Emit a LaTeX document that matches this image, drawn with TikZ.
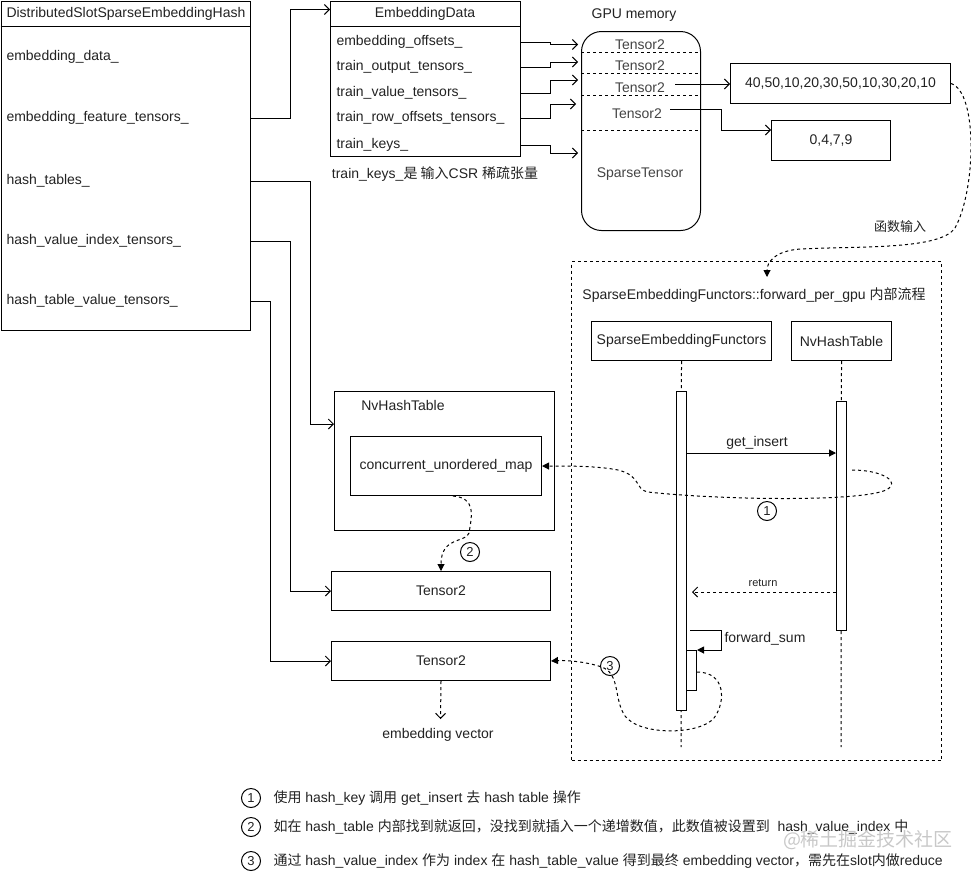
\documentclass[tikz,border=0pt]{standalone}
\usepackage{fontspec}
\setmainfont{Liberation Sans}
\newfontfamily\cjk{Noto Sans CJK SC}
\usetikzlibrary{arrows.meta}
\newcommand\fsz[1]{\fontsize{#1pt}{#1pt}\selectfont}
\newcommand\zh[1]{{\cjk #1}}
\definecolor{txt}{HTML}{222222}
\definecolor{gtxt}{HTML}{444444}
\definecolor{wm}{HTML}{C8C8C8}
\begin{document}
\begin{tikzpicture}[x=1pt,y=-1pt, line width=1pt,
  lbl/.style={font=\fsz{14}, text=txt, inner sep=0pt},
  box/.style={draw, inner sep=0pt, anchor=north west, font=\fsz{14}, text=txt},
  oarr/.style={-{Straight Barb[length=5pt,width=10pt]}},
  farr/.style={-{Triangle[length=7pt,width=7pt]}},
  dsh/.style={dash pattern=on 3pt off 3pt},
  circ/.style={draw, circle, minimum size=19pt, inner sep=0pt, font=\fsz{13}, text=txt}
]
\useasboundingbox (0,0) rectangle (971,871);

% ---------- left class box
\node[box, minimum width=249.5pt, minimum height=329.5pt] (big) at (0.5,0.5) {};
\draw (0.5,26) -- (250,26);
\node[lbl, anchor=west] (hdr) at (6,14) {DistributedSlotSparseEmbeddingHash};
\node[lbl, anchor=west] (i1) at (6,57) {embedding\_data\_};
\node[lbl, anchor=west] (i2) at (6,118) {embedding\_feature\_tensors\_};
\node[lbl, anchor=west] (i3) at (6,181) {hash\_tables\_};
\node[lbl, anchor=west] (i4) at (6,241) {hash\_value\_index\_tensors\_};
\node[lbl, anchor=west] (i5) at (6,301) {hash\_table\_value\_tensors\_};

% ---------- EmbeddingData
\node[box, minimum width=190pt, minimum height=155.5pt] (ed) at (330,0.5) {};
\draw (330,26) -- (520,26);
\node[lbl] (edh) at (425,14) {EmbeddingData};
\node[lbl, anchor=west] (e1) at (336,42) {embedding\_offsets\_};
\node[lbl, anchor=west] (e2) at (336,67) {train\_output\_tensors\_};
\node[lbl, anchor=west] (e3) at (336,93) {train\_value\_tensors\_};
\node[lbl, anchor=west] (e4) at (336,118) {train\_row\_offsets\_tensors\_};
\node[lbl, anchor=west] (e5) at (336,145) {train\_keys\_};
\node[lbl] (cap) at (435,174) {train\_keys\_\zh{是 输入}CSR \zh{稀疏张量}};

% ---------- GPU memory
\node[lbl] (gpul) at (634,15) {GPU memory};
\node[box, rounded corners=20pt, minimum width=119pt, minimum height=199pt] (gpu) at (581,31) {};
\draw[dsh] (581,52) -- (700,52);
\draw[dsh] (581,73) -- (700,73);
\draw[dsh] (581,95) -- (700,95);
\draw[dsh] (581,130) -- (700,130);
\node[lbl, text=gtxt] (t1) at (640,45) {Tensor2};
\node[lbl, text=gtxt] (t2) at (640,66) {Tensor2};
\node[lbl, text=gtxt] (t3) at (640,88) {Tensor2};
\node[lbl, text=gtxt] (t4) at (637,114) {Tensor2};
\node[lbl, text=gtxt] (st) at (640,174) {SparseTensor};

\node[box, minimum width=220pt, minimum height=40pt] (vals) at (730,63) {40,50,10,20,30,50,10,30,20,10};
\node[box, minimum width=119pt, minimum height=40pt] (idx) at (771,120) {0,4,7,9};

% y levels
\coordinate (y9) at (0,9.5);
\coordinate (g1) at (0,44.5);
\coordinate (g2) at (0,62);
\coordinate (g3) at (0,80);
\coordinate (g4) at (0,104);
\coordinate (g5) at (0,153);
\coordinate (a3) at (675,84);
\coordinate (a4) at (670,109);
\coordinate (a4b) at (0,130);

% connectors top
\draw[oarr] (i2 -| big.east) -- (290,118) -- (290,9.5) -- (ed.west |- y9);
\draw[oarr] (e1 -| ed.east) -- (550,42) |- ([xshift=-3pt]gpu.west |- g1);
\draw[oarr] (e2 -| ed.east) -- (550,67) |- ([xshift=-3pt]gpu.west |- g2);
\draw[oarr] (e3 -| ed.east) -- (550,93) |- ([xshift=-3pt]gpu.west |- g3);
\draw[oarr] (e4 -| ed.east) -- (550,118) |- ([xshift=-5pt]gpu.west |- g4);
\draw[oarr] (e5 -| ed.east) -- (550,145) |- ([xshift=-3pt]gpu.west |- g5);
\draw[oarr] (a3) -- (vals.west |- a3);
\draw[oarr] (a4) -- (721,109) |- (idx.west |- a4b);

% ---------- forward container
\node[draw, dsh, anchor=north west, minimum width=370pt, minimum height=499pt, inner sep=0pt] (fwd) at (571,261) {};
\node[lbl] (ftitle) at (754,295) {SparseEmbeddingFunctors::forward\_per\_gpu \zh{内部流程}};
\coordinate (in1) at (767,277);
\draw[farr, dsh] (vals.east) .. controls (978,92) and (976,190) .. (955,228)
   .. controls (940,250) and (860,246) .. (800,249)
   .. controls (775,251) and (767,262) .. (in1);
\node[lbl, font=\fsz{13}] (fin) at (900,227) {\zh{函数输入}};

% lifelines
\node[box, minimum width=180pt, minimum height=39pt] (sef) at (591,321) {SparseEmbeddingFunctors};
\node[box, minimum width=100pt, minimum height=39pt] (nvh) at (791,321) {NvHashTable};
\coordinate (l1end) at (681,747);
\coordinate (l2end) at (841,747);
\draw[dsh] (sef.south) -- (l1end);
\draw[dsh] (nvh.south) -- (l2end);
\node[draw, fill=white, anchor=north west, minimum width=10pt, minimum height=319pt, inner sep=0pt] (bar1) at (676,391) {};
\node[draw, fill=white, anchor=north west, minimum width=10pt, minimum height=229pt, inner sep=0pt] (bar2) at (836,401) {};
\node[draw, fill=white, anchor=north west, minimum width=10pt, minimum height=40pt, inner sep=0pt] (bar3) at (686,650) {};

\coordinate (gy) at (0,453);
\draw[farr] (bar1.east |- gy) -- (bar2.west |- gy);
\node[lbl] (gi) at (757,443) {get\_insert};
\coordinate (ry) at (0,592);
\coordinate (rtip) at (692,592);
\draw[oarr, dsh] (bar2.west |- ry) -- (rtip);
\node[lbl, font=\fsz{11}] (ret) at (763,583) {return};
\coordinate (fs0) at (690,630);
\draw[farr] (fs0) -- (721,630) -- (721,650) -- (bar3.north east);
\node[lbl, anchor=west] (fsum) at (724,639) {forward\_sum};

% ---------- NvHashTable & tensors
\node[box, minimum width=220pt, minimum height=139pt] (nvc) at (334,391) {};
\node[lbl] (nvcl) at (403,405) {NvHashTable};
\node[box, minimum width=191pt, minimum height=59pt] (cum) at (350,436) {concurrent\_unordered\_map};
\node[box, minimum width=219pt, minimum height=39pt] (tA) at (331,571) {Tensor2};
\node[box, minimum width=219pt, minimum height=39pt] (tB) at (331,641) {Tensor2};
\node[lbl] (ev) at (438,735) {embedding vector};

\coordinate (nvin) at (0,424);
\coordinate (evtip) at (440.5,719);
\draw[oarr] (i3 -| big.east) -- (310,181) |- (nvc.west |- nvin);
\draw[oarr] (i4 -| big.east) -- (290,241) |- (tA.west);
\draw[oarr] (i5 -| big.east) -- (270,301) |- (tB.west);
\draw[oarr, dsh] (tB.south) -- (evtip);

% curves
\coordinate (c1s) at (852,470);
\draw[farr, dsh] (c1s) .. controls (882,470) and (902,482) .. (886,490)
   .. controls (860,502) and (720,500) .. (648,492)
   .. controls (634,489) and (642,476) .. (618,470)
   .. controls (598,466) and (570,466) .. (cum.east);
\node[circ, fill=white] (n1c) at (767,511) {1};

\draw[farr, dsh] ([xshift=7pt]cum.south) .. controls (476,498) and (472,515) .. (469,533)
   .. controls (466,543) and (441,536) .. (tA.north);
\node[circ, fill=white] (n2c) at (470,552) {2};

\coordinate (c3s) at (697,672);
\draw[farr, dsh] (c3s) .. controls (726,672) and (726,702) .. (714,718)
   .. controls (700,735) and (640,736) .. (625,716)
   .. controls (614,700) and (620,676) .. (604,668)
   .. controls (590,662) and (566,660) .. (tB.east);
\node[circ] (n3c) at (610,666) {3};

% ---------- legend
\node[circ] (L1c) at (251,798) {1};
\node[circ] (L2c) at (251,827) {2};
\node[circ] (L3c) at (251,861) {3};
\node[lbl, anchor=west] (L1) at (273,798) {\zh{使用} hash\_key \zh{调用} get\_insert \zh{去} hash table \zh{操作}};
\node[lbl, anchor=west] (L2) at (273,827) {\zh{如在} hash\_table \zh{内部找到就返回，没找到就插入一个递增数值，此数值被设置到}\ \ hash\_value\_index \zh{中}};
\node[lbl, anchor=west] (L3) at (273,861) {\zh{通过} hash\_value\_index \zh{作为} index \zh{在} hash\_table\_value \zh{得到最终} embedding vector\zh{，需先在}slot\zh{内做}reduce};
\node[font=\fsz{19}, text=wm, inner sep=0pt] (wmk) at (868,840) {\zh{@稀土掘金技术社区}};
\end{tikzpicture}
\end{document}
